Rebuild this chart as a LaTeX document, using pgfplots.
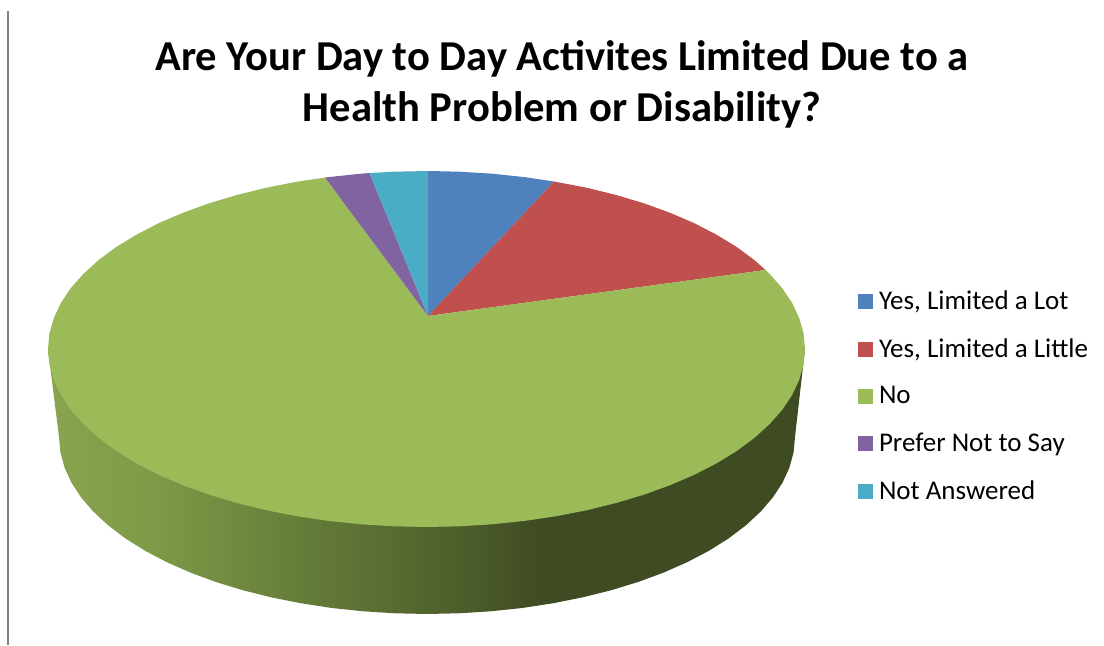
\documentclass[border=0pt]{standalone}
\usepackage{fontspec}
\setmainfont{Carlito}
\usepackage{pgfplots}
\pgfplotsset{compat=1.18}

\definecolor{pieblue}{HTML}{4F81BD}
\definecolor{piered}{HTML}{C0504D}
\definecolor{piegreen}{HTML}{9BBB59}
\definecolor{piepurple}{HTML}{8064A2}
\definecolor{pieteal}{HTML}{4BACC6}
\definecolor{sidea}{HTML}{88A44E}
\definecolor{sideb}{HTML}{7F9B48}
\definecolor{sidec}{HTML}{667D39}
\definecolor{sided}{HTML}{4F602C}
\definecolor{sidee}{HTML}{3F4B23}

% side of the pie, stops between 25bp (left edge) and 75bp (right edge)
\pgfdeclarehorizontalshading{sidegreen}{100bp}{
  color(0bp)=(sidea);
  color(25bp)=(sidea);
  color(31.7bp)=(sideb);
  color(41.6bp)=(sidec);
  color(51.6bp)=(sided);
  color(57.5bp)=(sidee);
  color(75bp)=(sidee);
  color(100bp)=(sidee)}

\begin{document}
\begin{tikzpicture}
\begin{axis}[
    scale only axis,
    width=552pt, height=322.5pt,
    xmin=0, xmax=1104, ymin=0, ymax=645,
    y dir=reverse,
    axis line style={draw=none},
    xtick=\empty, ytick=\empty,
    clip=false,
    every axis title shift=0pt,
    title={Are Your Day to Day Activites Limited Due to a\\Health Problem or Disability?},
    title style={at={(axis cs:562,84.5)}, anchor=center, align=center,
        font=\fontsize{21.3}{25.6}\selectfont\bfseries},
    legend style={at={(axis cs:858,286.5)}, anchor=north west, draw=none, fill=none,
        font=\fontsize{13.5}{15}\selectfont, row sep=9.1pt,
        inner sep=0pt, outer sep=0pt},
    legend cell align=left,
    legend image code/.code={\path (0pt,0pt) (8.5pt,0pt);\fill[#1] (0pt,-3.75pt) rectangle (7.5pt,3.75pt);},
]

% vertical rule on the left
\addplot[forget plot, draw=black!50, line width=1pt] coordinates {(8,11) (8,645)};

% side
\addplot[forget plot, draw=none, shading=sidegreen] coordinates {
    (805,349) (795,437) (793.6,452.4) (789.4,467.7) (782.5,482.8) (772.8,497.5)
    (760.5,511.8) (745.7,525.5) (728.5,538.5) (708.9,550.8) (687.2,562.2)
    (663.6,572.6) (638.1,582) (611,590.3) (582.5,597.4) (552.9,603.3)
    (522.2,608) (490.9,611.3) (459.1,613.3) (427,614)
    (394.9,613.3) (363.1,611.3) (331.8,608) (301.1,603.3) (271.5,597.4)
    (243,590.3) (215.9,582) (190.4,572.6) (166.8,562.2) (145.1,550.8)
    (125.5,538.5) (108.3,525.5) (93.5,511.8) (81.2,497.5) (71.5,482.8)
    (64.6,467.7) (60.4,452.4) (59,437) (48,349)
} -- cycle;

% Yes, Limited a Lot
\addplot[fill=pieblue, draw=none] coordinates {
    (428,316) (428,171) (459.5,171.7) (492.2,173.7) (524.5,177.1) (554,181.5)
} -- cycle;
\addlegendentry{Yes, Limited a Lot}

% Yes, Limited a Little
\addplot[fill=piered, draw=none] coordinates {
    (428,316) (554,181.5) (586.5,187.7) (615.8,194.9) (643.6,203.2) (669.8,212.7)
    (694.1,223.1) (716.4,234.6) (736.6,246.9) (754.3,260) (765.5,270)
} -- cycle;
\addlegendentry{Yes, Limited a Little}

% No
\addplot[fill=piegreen, draw=none] coordinates {
    (428,316) (765.5,270) (769.5,273.8) (782.2,288.1) (792.1,302.9) (799.2,318.1)
    (803.6,333.5) (805,349) (803.6,364.5) (799.2,379.9) (792.1,395.1) (782.2,409.9)
    (769.5,424.2) (754.3,438) (736.6,451.1) (716.4,463.4) (694.1,474.9) (669.8,485.3)
    (643.6,494.8) (615.8,503.1) (586.5,510.3) (555.9,516.3) (524.5,520.9) (492.2,524.3)
    (459.5,526.3) (426.5,527) (393.5,526.3) (360.8,524.3) (328.5,520.9) (297.1,516.3)
    (266.5,510.3) (237.25,503.1) (209.4,494.8) (183.2,485.3) (158.9,474.9) (136.6,463.4)
    (116.4,451.1) (98.7,438) (83.5,424.2) (70.8,409.9) (60.9,395.1) (53.8,379.9)
    (49.4,364.5) (48,349) (49.4,333.5) (53.8,318.1) (60.9,302.9) (70.8,288.1)
    (83.5,273.8) (98.7,260) (116.4,246.9) (136.6,234.6) (158.9,223.1) (183.2,212.7)
    (209.4,203.2) (237.25,194.9) (266.5,187.7) (297.1,181.7) (325,177.6)
} -- cycle;
\addlegendentry{No}

% Prefer Not to Say
\addplot[fill=piepurple, draw=none] coordinates {
    (428,316) (325,177.6) (328.5,177.1) (360.8,173.7) (369.5,173)
} -- cycle;
\addlegendentry{Prefer Not to Say}

% Not Answered
\addplot[fill=pieteal, draw=none] coordinates {
    (428,316) (369.5,173) (393.5,171.7) (428,171)
} -- cycle;
\addlegendentry{Not Answered}

\end{axis}
\end{tikzpicture}
\end{document}
